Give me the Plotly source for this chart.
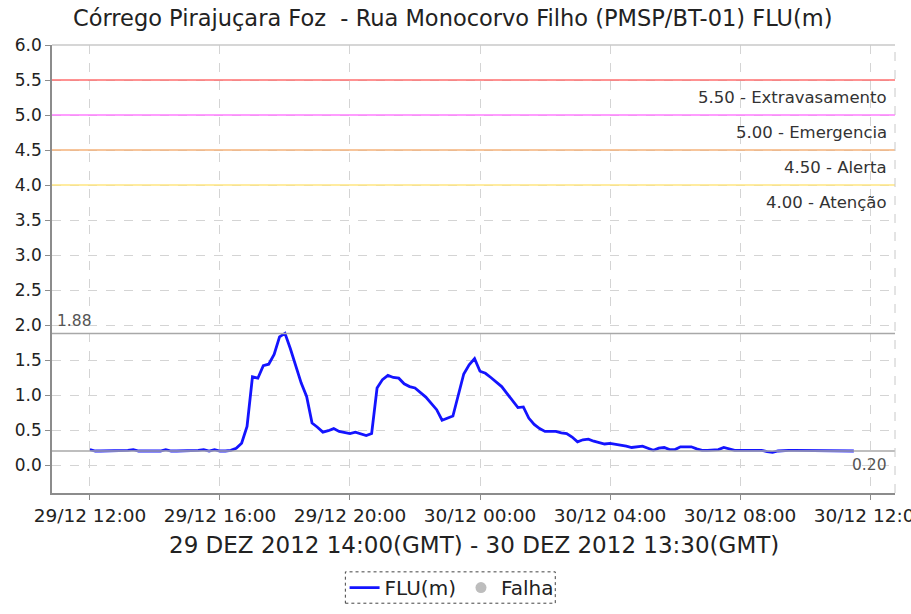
import pandas as pd
import plotly.graph_objects as go

# Water level readings (m), one every 10 minutes from 29/12 12:00 to 30/12 11:30
start_time = "2012-12-29 12:00"
step_minutes = 10
flu_values = [
    0.22, 0.20, 0.20, 0.20, 0.20, 0.20, 0.20, 0.21, 0.22, 0.20,
    0.20, 0.20, 0.20, 0.20, 0.22, 0.20, 0.20, 0.20, 0.20, 0.20,
    0.21, 0.22, 0.20, 0.22, 0.20, 0.20, 0.21, 0.24, 0.31, 0.55,
    1.26, 1.24, 1.42, 1.44, 1.58, 1.83, 1.88, 1.66, 1.41, 1.17,
    0.98, 0.60, 0.54, 0.47, 0.49, 0.52, 0.48, 0.46, 0.45, 0.47,
    0.44, 0.42, 0.45, 1.10, 1.22, 1.28, 1.25, 1.24, 1.16, 1.12,
    1.10, 1.03, 0.97, 0.88, 0.79, 0.64, 0.67, 0.70, 1.00, 1.30,
    1.43, 1.52, 1.34, 1.31, 1.25, 1.18, 1.12, 1.02, 0.92, 0.82,
    0.83, 0.67, 0.58, 0.52, 0.48, 0.48, 0.48, 0.46, 0.45, 0.40,
    0.33, 0.36, 0.37, 0.34, 0.32, 0.30, 0.31, 0.30, 0.29, 0.27,
    0.25, 0.26, 0.27, 0.24, 0.21, 0.24, 0.25, 0.22, 0.22, 0.26,
    0.26, 0.26, 0.23, 0.21, 0.21, 0.21, 0.22, 0.25, 0.23, 0.21,
    0.21, 0.21, 0.21, 0.21, 0.21, 0.19, 0.18, 0.20, 0.21, 0.21,
    0.21, 0.21, 0.21, 0.21, 0.21, 0.21, 0.21, 0.21, 0.21, 0.21,
    0.21, 0.20,
]
times = pd.date_range(start_time, periods=len(flu_values), freq=f"{step_minutes}min")

# Alert thresholds
threshold_levels = [5.50, 5.00, 4.50, 4.00]
threshold_names = ["Extravasamento", "Emergencia", "Alerta", "Atenção"]
threshold_colors = ["#ff6e6e", "#ff7dff", "#f5b27a", "#ffe680"]

x_range = ["2012-12-29 10:50", "2012-12-30 12:46"]
y_range = [-0.4, 6.0]

title_text = "Córrego Pirajuçara Foz\u00a0 - Rua Monocorvo Filho (PMSP/BT-01) FLU(m)"
period_text = "29 DEZ 2012 14:00(GMT) - 30 DEZ 2012 13:30(GMT)"

FONT = "DejaVu Sans"
TXT = "#333333"

fig = go.Figure()

fig.add_trace(go.Scatter(
    x=times, y=flu_values, mode="lines", name="FLU(m)",
    line=dict(color="#1414ff", width=2.8),
))
fig.add_trace(go.Scatter(
    x=[None], y=[None], mode="markers", name="Falha",
    marker=dict(color="#bdbdbd", size=11),
))

# threshold lines with labels on the right
for lvl, name, col in zip(threshold_levels, threshold_names, threshold_colors):
    fig.add_shape(type="line", xref="paper", x0=0, x1=1, yref="y", y0=lvl, y1=lvl,
                  line=dict(color=col, width=1.5))
    fig.add_annotation(xref="paper", x=1, xanchor="right", xshift=-6,
                       yref="y", y=lvl, yanchor="top", yshift=-6,
                       text=f"{lvl:.2f} - {name}", showarrow=False,
                       font=dict(family=FONT, size=16.5, color=TXT))

# max and last value markers
max_val = max(flu_values)
last_val = flu_values[-1]
for v in (max_val, last_val):
    fig.add_shape(type="line", xref="paper", x0=0, x1=1, yref="y", y0=v, y1=v,
                  line=dict(color="#a8a8a8", width=1.5))
fig.add_annotation(xref="paper", x=0, xanchor="left", xshift=3,
                   yref="y", y=max_val, yanchor="bottom", yshift=1,
                   text=f"{max_val:.2f}", showarrow=False,
                   font=dict(family=FONT, size=15.5, color="#555555"))
fig.add_annotation(xref="paper", x=1, xanchor="right", xshift=-6,
                   yref="y", y=last_val, yanchor="top", yshift=-3,
                   text=f"{last_val:.2f}", showarrow=False,
                   font=dict(family=FONT, size=15.5, color="#555555"))

# frame: light top edge and dashed right edge
fig.add_shape(type="line", xref="paper", x0=0, x1=1, yref="paper", y0=1, y1=1,
              line=dict(color="#c8c8c8", width=1.5))
fig.add_shape(type="line", xref="paper", x0=1, x1=1, yref="paper", y0=0, y1=1,
              line=dict(color="#c8c8c8", width=1, dash="dash"))

# period subtitle under the axis
fig.add_annotation(xref="paper", x=0.5, xanchor="center",
                   yref="paper", y=-0.116, yanchor="middle",
                   text=period_text, showarrow=False,
                   font=dict(family=FONT, size=23, color="#222222"))

# dashed box around the legend
fig.add_shape(type="rect", xref="paper", yref="paper",
              x0=0.348, x1=0.597, y0=-0.246, y1=-0.176,
              line=dict(color="#444444", width=1, dash="dot"))

fig.update_layout(
    width=911, height=614,
    margin=dict(l=52, r=16, t=45, b=121, autoexpand=False),
    paper_bgcolor="white", plot_bgcolor="white",
    title=dict(text=title_text, x=0.497, xanchor="center", y=0.97, yanchor="middle",
               font=dict(family=FONT, size=22.5, color="#222222")),
    font=dict(family=FONT, color=TXT),
    showlegend=True,
    legend=dict(orientation="h", x=0.474, xanchor="center", y=-0.211, yanchor="middle",
                font=dict(family=FONT, size=20, color="#222222"),
                bgcolor="rgba(0,0,0,0)", itemwidth=30, tracegroupgap=0),
    xaxis=dict(
        range=x_range, type="date",
        tick0="2012-12-29 00:00", dtick=4 * 3600 * 1000,
        tickformat="%d/%m %H:%M",
        showgrid=True, gridcolor="#d4d4d4", griddash="dash", gridwidth=1,
        showline=True, linecolor="#8c8c8c", linewidth=1.5,
        ticks="outside", ticklen=5, tickcolor="#8c8c8c",
        tickfont=dict(family=FONT, size=18.5, color="#222222"),
        ticklabeloverflow="allow", automargin=False,
        zeroline=False,
    ),
    yaxis=dict(
        range=y_range, tick0=0, dtick=0.5, tickformat=".1f",
        showgrid=True, gridcolor="#d4d4d4", griddash="dash", gridwidth=1,
        showline=True, linecolor="#8c8c8c", linewidth=1.5,
        ticks="outside", ticklen=5, tickcolor="#8c8c8c",
        tickfont=dict(family=FONT, size=17, color="#222222"),
        automargin=False,
        zeroline=False,
    ),
)

fig.write_html("out.html")
